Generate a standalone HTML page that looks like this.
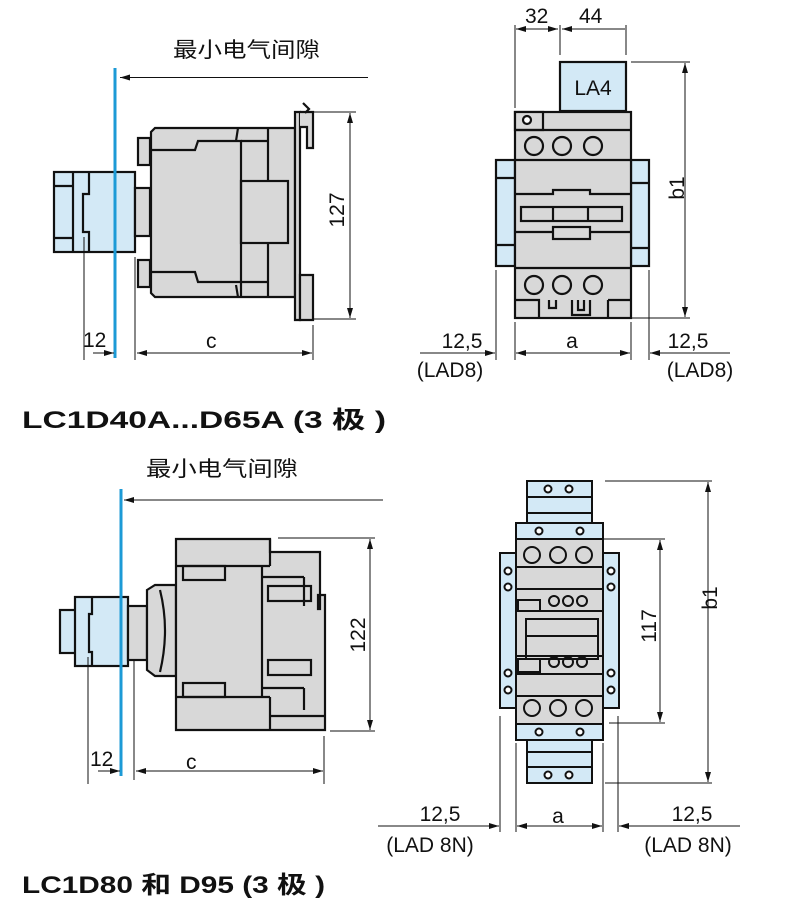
<!DOCTYPE html>
<html><head><meta charset="utf-8"><style>
html,body{margin:0;padding:0;background:#fff}
svg{display:block}
text{font-family:"Liberation Sans","Noto Sans CJK SC",sans-serif;fill:#111}
.t{font-size:21px}
.b{font-weight:bold;font-size:24px}
</style></head><body>
<svg width="790" height="911" viewBox="0 0 790 911" xmlns="http://www.w3.org/2000/svg">
<defs>
<marker id="a" viewBox="0 0 10 6" refX="10" refY="3" markerWidth="10" markerHeight="6" orient="auto-start-reverse" markerUnits="userSpaceOnUse"><path d="M0,0L10,3L0,6z" fill="#111"/></marker>
</defs>
<g stroke="#111" stroke-width="1" fill="none">
<line x1="120" y1="77.5" x2="368" y2="77.5" marker-start="url(#a)"/>
<g stroke-width="2.2">
<rect x="54" y="172" width="81" height="80" fill="#d3e9f6"/>
<line x1="73" y1="172" x2="73" y2="252"/>
<line x1="54" y1="186" x2="73" y2="186"/><line x1="54" y1="238" x2="73" y2="238"/>
<path d="M89 172V194H83V232H89V252"/>
<rect x="135" y="188" width="15" height="48" fill="#d8d8d8"/>
<rect x="138" y="138" width="12" height="27" fill="#d8d8d8"/>
<rect x="138" y="260" width="12" height="27" fill="#d8d8d8"/>
<path d="M155 128H295V297H155L151 293V132Z" fill="#d8d8d8"/>
<path d="M151 150H195L198 141H241V297"/>
<path d="M151 272H195L198 282H241"/>
<line x1="238" y1="128" x2="236" y2="141"/><line x1="238" y1="297" x2="236" y2="285"/>
<line x1="268" y1="128" x2="268" y2="181"/><line x1="268" y1="243" x2="268" y2="297"/>
<rect x="241" y="181" width="47" height="62"/>
<line x1="241" y1="141" x2="268" y2="141"/><line x1="241" y1="282" x2="268" y2="282"/>
<path d="M295 112H300V320H295Z" fill="#d8d8d8"/>
<path d="M300 112H313V148H307V127H300" fill="#d8d8d8"/>
<path d="M300 275H313V320H300Z" fill="#d8d8d8"/>
<path d="M303 103L309 109L305 113"/>
</g>
<line x1="115" y1="68" x2="115" y2="358" stroke="#1c9ad6" stroke-width="3"/>
<line x1="313" y1="112" x2="356" y2="112"/><line x1="313" y1="319" x2="356" y2="319"/>
<line x1="350" y1="113" x2="350" y2="318" marker-start="url(#a)" marker-end="url(#a)"/>
<line x1="84" y1="237" x2="84" y2="360"/><line x1="135" y1="257" x2="135" y2="360"/><line x1="313" y1="325" x2="313" y2="360"/>
<line x1="93" y1="353" x2="114" y2="353" marker-end="url(#a)"/>
<line x1="137" y1="353" x2="312" y2="353" marker-start="url(#a)" marker-end="url(#a)"/>

<line x1="515" y1="25" x2="515" y2="108"/><line x1="560" y1="25" x2="560" y2="55"/><line x1="626" y1="25" x2="626" y2="55"/>
<line x1="516" y1="29" x2="558" y2="29" marker-start="url(#a)" marker-end="url(#a)"/>
<line x1="562" y1="29" x2="625" y2="29" marker-start="url(#a)"/>
<g stroke-width="2.2">
<rect x="560" y="62" width="66" height="49" fill="#d3e9f6"/>
<rect x="496" y="160" width="19" height="106" fill="#d3e9f6"/>
<rect x="631" y="160" width="18" height="106" fill="#d3e9f6"/>
<line x1="496" y1="178" x2="515" y2="178"/><line x1="496" y1="245" x2="515" y2="245"/>
<line x1="631" y1="183" x2="649" y2="183"/><line x1="631" y1="248" x2="649" y2="248"/>
<rect x="515" y="112" width="116" height="206" fill="#d8d8d8"/>
<rect x="515" y="112" width="28" height="18" fill="#d8d8d8"/>
<circle cx="527" cy="120" r="4" fill="#fff"/>
<line x1="515" y1="130" x2="631" y2="130"/>
<line x1="515" y1="160" x2="631" y2="160"/>
<circle cx="534" cy="146" r="9"/><circle cx="562" cy="146" r="9"/><circle cx="593" cy="146" r="9"/>
<path d="M515 194H553V190H590V194H631"/>
<rect x="521" y="207" width="101" height="14"/><line x1="553" y1="207" x2="553" y2="221"/><line x1="588" y1="207" x2="588" y2="221"/>
<line x1="515" y1="232" x2="631" y2="232"/>
<rect x="553" y="227" width="37" height="12" fill="#d8d8d8"/>
<line x1="515" y1="268" x2="631" y2="268"/>
<circle cx="534" cy="285" r="9"/><circle cx="562" cy="285" r="9"/><circle cx="593" cy="285" r="9"/>
<path d="M515 300H539V318M549 300V308H556V300M572 300V315H590V300M578 300V310H584V300M608 300V318M608 300H631"/>
</g>
<line x1="631" y1="62" x2="690" y2="62"/><line x1="631" y1="318" x2="690" y2="318"/>
<line x1="685" y1="63" x2="685" y2="317" marker-start="url(#a)" marker-end="url(#a)"/>
<line x1="496" y1="270" x2="496" y2="360"/><line x1="515" y1="322" x2="515" y2="360"/>
<line x1="631" y1="322" x2="631" y2="360"/><line x1="649" y1="270" x2="649" y2="360"/>
<line x1="420" y1="353" x2="495" y2="353" marker-end="url(#a)"/>
<line x1="516" y1="353" x2="630" y2="353" marker-start="url(#a)" marker-end="url(#a)"/>
<line x1="650" y1="353" x2="730" y2="353" marker-start="url(#a)"/>

<line x1="124" y1="500" x2="383" y2="500" marker-start="url(#a)"/>
<g stroke-width="2.2">
<rect x="60" y="610" width="16" height="43" fill="#d3e9f6"/>
<rect x="75" y="597" width="53" height="69" fill="#d3e9f6"/>
<path d="M92 597V614H89V652H92V666"/>
<rect x="128" y="606" width="19" height="54" fill="#d8d8d8"/>
<path d="M147 590L155 585H176V676H155L147 670Z" fill="#d8d8d8"/>
<path d="M160 590Q170 630 160 672"/>
<path d="M176 539H270V552H320V609H318V595H325V730H176Z" fill="#d8d8d8"/>
<line x1="176" y1="566" x2="270" y2="566"/><line x1="176" y1="697" x2="270" y2="697"/>
<line x1="262" y1="566" x2="262" y2="697"/><line x1="270" y1="539" x2="270" y2="566"/><line x1="270" y1="697" x2="270" y2="730"/>
<rect x="183" y="566" width="42" height="14"/><rect x="183" y="683" width="42" height="14"/>
<rect x="268" y="586" width="43" height="15"/><rect x="268" y="660" width="43" height="15"/>
<line x1="262" y1="577" x2="304" y2="577"/><line x1="262" y1="688" x2="304" y2="688"/>
<line x1="304" y1="577" x2="304" y2="606"/><line x1="304" y1="688" x2="304" y2="710"/>
<line x1="270" y1="716" x2="325" y2="716"/>
</g>
<line x1="121" y1="489" x2="121" y2="776" stroke="#1c9ad6" stroke-width="3"/>
<line x1="278" y1="538" x2="375" y2="538"/><line x1="330" y1="731" x2="375" y2="731"/>
<line x1="370" y1="539" x2="370" y2="730" marker-start="url(#a)" marker-end="url(#a)"/>
<line x1="88" y1="657" x2="88" y2="784"/><line x1="134" y1="660" x2="134" y2="780"/><line x1="324" y1="736" x2="324" y2="784"/>
<line x1="98" y1="771" x2="120" y2="771" marker-end="url(#a)"/>
<line x1="136" y1="771" x2="323" y2="771" marker-start="url(#a)" marker-end="url(#a)"/>

<g stroke-width="2">
<rect x="527" y="481" width="65" height="42" fill="#d3e9f6"/>
<line x1="527" y1="497" x2="592" y2="497"/><line x1="527" y1="513" x2="592" y2="513"/>
<circle cx="548" cy="489" r="3.5" fill="#fff"/><circle cx="569" cy="489" r="3.5" fill="#fff"/>
<rect x="527" y="740" width="65" height="43" fill="#d3e9f6"/>
<line x1="527" y1="752" x2="592" y2="752"/><line x1="527" y1="767" x2="592" y2="767"/>
<circle cx="548" cy="775" r="3.5" fill="#fff"/><circle cx="569" cy="775" r="3.5" fill="#fff"/>
<rect x="500" y="553" width="16" height="155" fill="#d3e9f6"/>
<rect x="603" y="553" width="16" height="155" fill="#d3e9f6"/>
<circle cx="508" cy="571" r="3.5" fill="#fff"/><circle cx="508" cy="587" r="3.5" fill="#fff"/>
<circle cx="508" cy="673" r="3.5" fill="#fff"/><circle cx="508" cy="690" r="3.5" fill="#fff"/>
<circle cx="611" cy="571" r="3.5" fill="#fff"/><circle cx="611" cy="587" r="3.5" fill="#fff"/>
<circle cx="611" cy="673" r="3.5" fill="#fff"/><circle cx="611" cy="690" r="3.5" fill="#fff"/>
<rect x="516" y="523" width="87" height="217" fill="#d3e9f6"/>
<rect x="516" y="539" width="87" height="185" fill="#d8d8d8"/>
<circle cx="539" cy="531" r="3.5" fill="#fff"/><circle cx="580" cy="531" r="3.5" fill="#fff"/>
<circle cx="539" cy="732" r="3.5" fill="#fff"/><circle cx="580" cy="732" r="3.5" fill="#fff"/>
<circle cx="532" cy="555" r="8"/><circle cx="558" cy="555" r="8"/><circle cx="584" cy="555" r="8"/>
<line x1="516" y1="567" x2="603" y2="567"/>
<line x1="516" y1="589" x2="603" y2="589"/>
<circle cx="554" cy="601" r="5"/><circle cx="568" cy="601" r="5"/><circle cx="582" cy="601" r="5"/>
<rect x="518" y="600" width="22" height="11"/>
<line x1="516" y1="611" x2="603" y2="611"/>
<rect x="526" y="619" width="72" height="40"/>
<line x1="526" y1="636" x2="598" y2="636"/>
<line x1="516" y1="656" x2="603" y2="656"/>
<circle cx="554" cy="662" r="5"/><circle cx="568" cy="662" r="5"/><circle cx="582" cy="662" r="5"/>
<rect x="518" y="659" width="22" height="13"/>
<line x1="516" y1="674" x2="603" y2="674"/>
<line x1="516" y1="696" x2="603" y2="696"/>
<circle cx="532" cy="708" r="8"/><circle cx="558" cy="708" r="8"/><circle cx="584" cy="708" r="8"/>
</g>
<line x1="605" y1="481" x2="712" y2="481"/><line x1="605" y1="783" x2="712" y2="783"/>
<line x1="708" y1="482" x2="708" y2="782" marker-start="url(#a)" marker-end="url(#a)"/>
<line x1="603" y1="539" x2="665" y2="539"/><line x1="609" y1="723" x2="665" y2="723"/>
<line x1="660" y1="540" x2="660" y2="722" marker-start="url(#a)" marker-end="url(#a)"/>
<line x1="500" y1="716" x2="500" y2="832"/><line x1="516" y1="743" x2="516" y2="832"/>
<line x1="603" y1="743" x2="603" y2="832"/><line x1="618" y1="716" x2="618" y2="832"/>
<line x1="378" y1="826" x2="499" y2="826" marker-end="url(#a)"/>
<line x1="517" y1="826" x2="602" y2="826" marker-start="url(#a)" marker-end="url(#a)"/>
<line x1="619" y1="826" x2="740" y2="826" marker-start="url(#a)"/>
</g>

<text class="t" x="173" y="57" textLength="147" lengthAdjust="spacingAndGlyphs">最小电气间隙</text>
<text class="t" x="83" y="347">12</text>
<text class="t" x="206" y="348">c</text>
<text class="t" transform="translate(344 210) rotate(-90)" text-anchor="middle">127</text>
<text class="t" x="525" y="23">32</text>
<text class="t" x="579" y="23">44</text>
<text class="t" x="593" y="95" text-anchor="middle">LA4</text>
<text class="t" transform="translate(684 188) rotate(-90)" text-anchor="middle">b1</text>
<text class="t" x="462" y="348" text-anchor="middle">12,5</text>
<text class="t" x="450" y="377" text-anchor="middle">(LAD8)</text>
<text class="t" x="572" y="348" text-anchor="middle">a</text>
<text class="t" x="688" y="348" text-anchor="middle">12,5</text>
<text class="t" x="700" y="377" text-anchor="middle">(LAD8)</text>
<text class="b" x="22" y="428" textLength="364" lengthAdjust="spacingAndGlyphs">LC1D40A...D65A (3 极 )</text>

<text class="t" x="146" y="476" textLength="152" lengthAdjust="spacingAndGlyphs">最小电气间隙</text>
<text class="t" x="90" y="766">12</text>
<text class="t" x="186" y="769">c</text>
<text class="t" transform="translate(365 635) rotate(-90)" text-anchor="middle">122</text>
<text class="t" transform="translate(656 626) rotate(-90)" text-anchor="middle">117</text>
<text class="t" transform="translate(717 598) rotate(-90)" text-anchor="middle">b1</text>
<text class="t" x="440" y="821" text-anchor="middle">12,5</text>
<text class="t" x="430" y="852" text-anchor="middle">(LAD 8N)</text>
<text class="t" x="558" y="823" text-anchor="middle">a</text>
<text class="t" x="692" y="821" text-anchor="middle">12,5</text>
<text class="t" x="688" y="852" text-anchor="middle">(LAD 8N)</text>
<text class="b" x="22" y="893" textLength="303" lengthAdjust="spacingAndGlyphs">LC1D80 和 D95 (3 极 )</text>
</svg>
</body></html>
